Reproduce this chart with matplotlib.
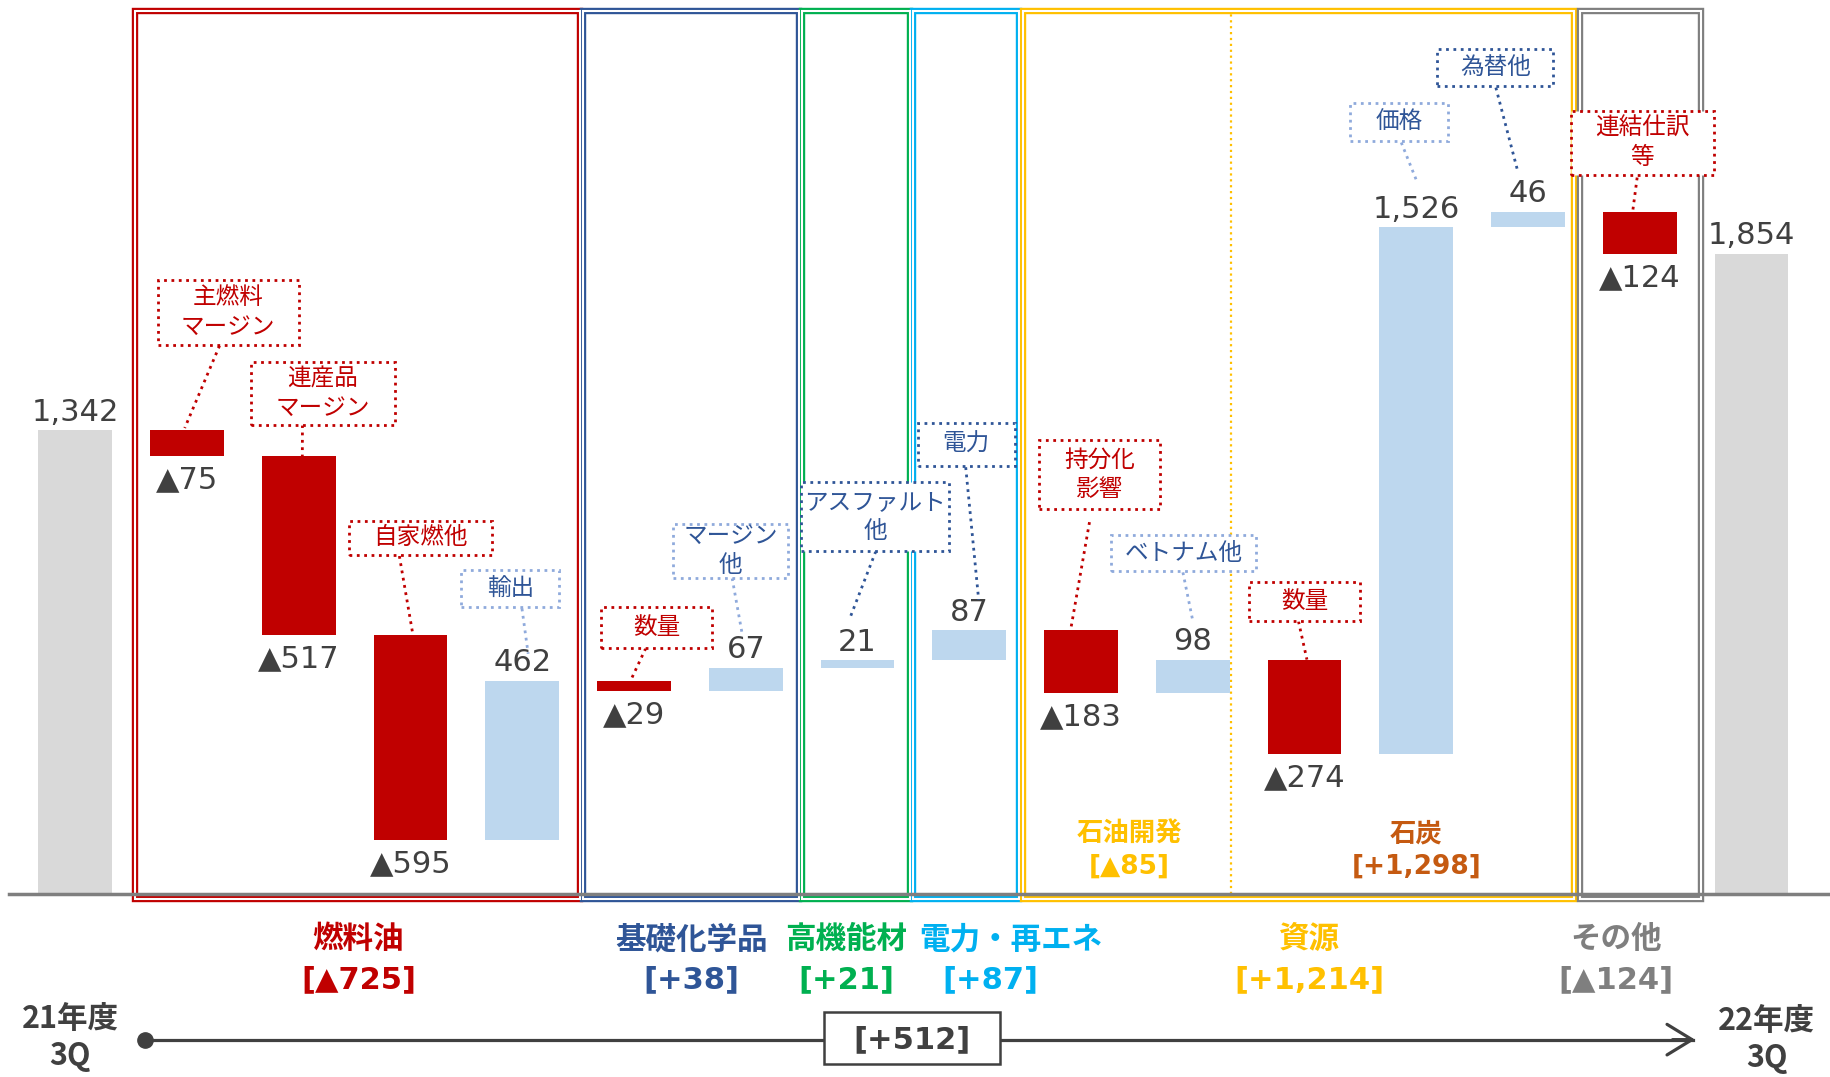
import matplotlib
matplotlib.use('Agg')
import matplotlib.pyplot as plt
from matplotlib.patches import Rectangle
import numpy as np

# ---- data ----
start_label = '21年度\n3Q'
end_label = '22年度\n3Q'
start_value = 1342
end_value = 1854
item_names = ['主燃料\nマージン', '連産品\nマージン', '自家燃他', '輸出', '数量', 'マージン\n他',
              'アスファルト\n他', '電力', '持分化\n影響', 'ベトナム他', '数量', '価格', '為替他', '連結仕訳\n等']
item_deltas = [-75, -517, -595, 462, -29, 67, 21, 87, -183, 98, -274, 1526, 46, -124]
segment_names = ['燃料油', '基礎化学品', '高機能材', '電力・再エネ', '資源', 'その他']
segment_totals = ['[▲725]', '[+38]', '[+21]', '[+87]', '[+1,214]', '[▲124]']
sub_names = ['石油開発', '石炭']
sub_totals = ['[▲85]', '[+1,298]']
total_change = '[+512]'

RED = '#c00000'
BLUE_BAR = '#bdd7ee'
GRAY_BAR = '#d9d9d9'
DARK = '#404040'
seg_colors = ['#c00000', '#2f5597', '#00b050', '#00b0f0', '#ffc000', '#7f7f7f']
JP = ['Noto Sans CJK JP', 'DejaVu Sans']
NUM = ['DejaVu Sans', 'Noto Sans CJK JP']


# layout helpers: positions measured on the 1568x922 reference view
def lx(xd):
    return (xd - 64.5) / 95.7


def ly(yd):
    return (765 - yd) * 3.384


fig = plt.figure(figsize=(18.31, 10.77), dpi=100)
ax = fig.add_axes([0, 0, 1, 1])
ax.set_xlim(lx(0), lx(1568))
ax.set_ylim(ly(922), ly(0))
ax.axis('off')

# ---- waterfall bars ----
n = len(item_deltas)
bottoms = [0]
heights = [start_value]
colors = [GRAY_BAR]
run = start_value
for d in item_deltas:
    if d < 0:
        bottoms.append(run + d)
        heights.append(-d)
        colors.append(RED)
    else:
        bottoms.append(run)
        heights.append(d)
        colors.append(BLUE_BAR)
    run += d
bottoms.append(0)
heights.append(end_value)
colors.append(GRAY_BAR)
idx = np.arange(n + 2)
ax.bar(idx, heights, bottom=bottoms, width=0.66, color=colors, zorder=3)
tops = [b + h for b, h in zip(bottoms, heights)]

# value labels
for i in idx:
    if i == 0 or i == n + 1:
        ax.annotate(f'{heights[i]:,}', (i, tops[i]), xytext=(0, 13), textcoords='offset points',
                    ha='center', va='center', fontsize=22, color=DARK, family=NUM)
        continue
    d = item_deltas[i - 1]
    if d < 0:
        ax.annotate('▲' + f'{-d:,}', (i, bottoms[i]), xytext=(0, -17), textcoords='offset points',
                    ha='center', va='center', fontsize=22, color=DARK, family=NUM)
    else:
        ax.annotate(f'{d:,}', (i, tops[i]), xytext=(0, 13), textcoords='offset points',
                    ha='center', va='center', fontsize=22, color=DARK, family=NUM)

# ---- segment frames (left/right edges on the reference view) ----
frame_edges = [(116, 497), (499, 684), (687, 779), (782, 873), (876, 1348), (1353, 1457)]
for (a, b), col in zip(frame_edges, seg_colors):
    x0, x1 = lx(a), lx(b)
    y0, y1 = ly(770), ly(9)
    ax.add_patch(Rectangle((x0, y0), x1 - x0, y1 - y0, fill=False, ec=col, lw=4.6, zorder=1))
    ax.add_patch(Rectangle((x0, y0), x1 - x0, y1 - y0, fill=False, ec='white', lw=1.5, zorder=1.5))
ax.plot([lx(1054), lx(1054)], [0, ly(12)], ls=':', color='#ffc000', lw=1.6, zorder=2)

ax.plot([lx(8), lx(1568)], [0, 0], color='#7f7f7f', lw=2.5, zorder=4)

# ---- callouts ----
styles = {'r': (RED, RED), 'lb': ('#8faadc', '#2f5597'), 'db': ('#2f5597', '#2f5597')}
callout_layout = [
    # box centre x, y, w, h, style, leader start, leader end offset from bar top
    (195.5, 267.5, 121, 55, 'r', (188, 296), (-2, 2)),
    (276.5, 337, 123, 54, 'r', (259, 364), (3, 0)),
    (360, 460.5, 122, 29, 'r', (342, 476), (2, 0)),
    (437, 504, 84, 32, 'lb', (447, 521), (5, 23)),
    (562.5, 537.5, 95, 35, 'r', (553, 555), (-3, 0)),
    (625.5, 472, 99, 46, 'lb', (627, 495), (-3, 28)),
    (749.5, 442.5, 127, 59, 'db', (750, 472), (-7, 35)),
    (827.5, 380.5, 83, 37, 'db', (827, 400), (8, 26)),
    (941.5, 406.5, 103, 59, 'r', (933, 447), (-9, 0)),
    (1013.5, 473.5, 125, 31, 'lb', (1013, 490), (0, 33)),
    (1117.5, 515, 95, 34, 'r', (1112, 532), (2, 0)),
    (1198, 104.5, 84, 33, 'lb', (1200, 122), (1, 38)),
    (1280.5, 58, 99, 32, 'db', (1281, 75), (-9, 35)),
    (1406.5, 122.5, 123, 55, 'r', (1402, 152), (-6, 1)),
]
for k, (name, lay) in enumerate(zip(item_names, callout_layout)):
    cx, cy, w, h, st, (sx, sy), (dx, dy) = lay
    ec, tc = styles[st]
    i = k + 1
    ax.add_patch(Rectangle((lx(cx - w / 2), ly(cy + h / 2)), w / 95.7, h * 3.384,
                           fc='white', ec=ec, lw=2, ls=':', zorder=6))
    ax.text(lx(cx), ly(cy), name, ha='center', va='center', fontsize=17, color=tc,
            family=JP, linespacing=1.35, zorder=7)
    ax.plot([lx(sx), i + dx / 95.7], [ly(sy), tops[i] + dy * 3.384], ls=':', color=ec,
            lw=2, zorder=5)

# ---- segment captions ----
name_x = [307, 592, 725, 866, 1121, 1384]
total_x = [307, 592, 725, 848, 1121, 1384]
for nm, tt, col, xn, xt in zip(segment_names, segment_totals, seg_colors, name_x, total_x):
    ax.text(lx(xn), ly(804), nm, ha='center', va='center', fontsize=22, fontweight='bold',
            color=col, family=JP)
    ax.text(lx(xt), ly(839), tt, ha='center', va='center', fontsize=22, fontweight='bold',
            color=col, family=NUM)
for nm, tt, col, xs in zip(sub_names, sub_totals, ['#ffc000', '#c55a11'], [967, 1213]):
    ax.text(lx(xs), ly(714), nm, ha='center', va='center', fontsize=19, fontweight='bold',
            color=col, family=JP)
    ax.text(lx(xs), ly(742), tt, ha='center', va='center', fontsize=19, fontweight='bold',
            color=col, family=NUM)

# ---- bottom timeline ----
ty = ly(890)
ax.plot([lx(124), lx(1450)], [ty, ty], color=DARK, lw=2.3, zorder=3)
ax.plot(lx(124), ty, 'o', ms=11, color=DARK, zorder=4)
ax.annotate('', xy=(lx(1454), ty), xytext=(lx(1430), ty),
            arrowprops=dict(arrowstyle='->,head_length=0.9,head_width=0.55', color=DARK,
                            lw=2.3, mutation_scale=20))
ax.add_patch(Rectangle((lx(706), ly(911)), 150 / 95.7, 45 * 3.384, fc='white', ec=DARK,
                       lw=1.8, zorder=5))
ax.text(lx(781), ty, total_change, ha='center', va='center', fontsize=22, fontweight='bold',
        color=DARK, family=NUM, zorder=6)
ax.text(lx(60), ly(888), start_label, ha='center', va='center', fontsize=22,
        fontweight='bold', color=DARK, family=JP)
ax.text(lx(1513), ly(890), end_label, ha='center', va='center', fontsize=22,
        fontweight='bold', color=DARK, family=JP)

fig.savefig('out.png', dpi=100)
